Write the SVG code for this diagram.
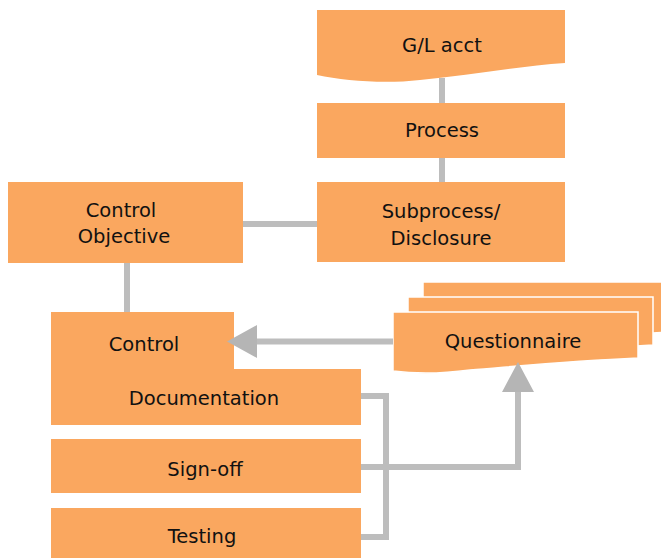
<svg xmlns="http://www.w3.org/2000/svg" width="661" height="558" viewBox="0 0 661 558">
<style>
.box{fill:#FAA75F;}
.qb{fill:#FAA75F;stroke:#FFFFFF;stroke-width:1.5;}
.t{font-family:"DejaVu Sans","Open Sans",sans-serif;font-size:19.5px;fill:#111111;text-anchor:middle;}
.c{fill:none;stroke:#BDBDBD;stroke-width:6;}
.ah{fill:#B5B5B5;}
</style>
<rect width="661" height="558" fill="#FFFFFF"/>
<g id="gl-acct">
<path class="box" d="M317,10 H565 V63 C520,66 470,75 420,80 C385,84 345,81 317,75 Z"/>
<text class="t" x="442" y="52">G/L acct</text>
</g>
<g id="process">
<rect class="box" x="317" y="103" width="248" height="55"/>
<text class="t" x="442" y="137">Process</text>
</g>
<g id="subprocess">
<rect class="box" x="317" y="182" width="248" height="80"/>
<text class="t" x="441" y="218">Subprocess/</text>
<text class="t" x="441" y="245">Disclosure</text>
</g>
<g id="control-objective">
<rect class="box" x="8" y="182" width="235" height="81"/>
<text class="t" x="121" y="217">Control</text>
<text class="t" x="124" y="243">Objective</text>
</g>
<g id="control-documentation">
<path class="box" d="M51,312 H234 V369 H361 V425 H51 Z"/>
<text class="t" x="144" y="351">Control</text>
<text class="t" x="204" y="405">Documentation</text>
</g>
<g id="sign-off">
<rect class="box" x="51" y="439" width="310" height="54"/>
<text class="t" x="205" y="476">Sign-off</text>
</g>
<g id="testing">
<rect class="box" x="51" y="508" width="310" height="50"/>
<text class="t" x="202" y="543">Testing</text>
</g>
<g id="questionnaire">
<path class="qb" d="M423,282 H668 V332 C600,336 540,342 490,346 C460,348 440,348 423,346 Z"/>
<path class="qb" d="M408,297 H653 V345 C585,349 525,355 475,359 C445,361 425,361 408,359 Z"/>
<path class="qb" d="M393,312 H638 V358 C570,361 520,366 470,370 C440,374 415,374 393,371 Z"/>
<text class="t" x="513" y="348">Questionnaire</text>
</g>
<g id="connectors">
<line class="c" x1="442" y1="78" x2="442" y2="103"/>
<line class="c" x1="442" y1="158" x2="442" y2="182"/>
<line class="c" x1="243" y1="224" x2="317" y2="224"/>
<line class="c" x1="127" y1="263" x2="127" y2="312"/>
<line class="c" x1="393" y1="341.5" x2="255" y2="341.5"/>
<polygon class="ah" points="227,341.5 257,325 257,358"/>
<polyline class="c" points="361,396 386,396 386,537 361,537"/>
<polyline class="c" points="361,467 518,467 518,390"/>
<polygon class="ah" points="518,362 502,392 534,392"/>
</g>
</svg>
